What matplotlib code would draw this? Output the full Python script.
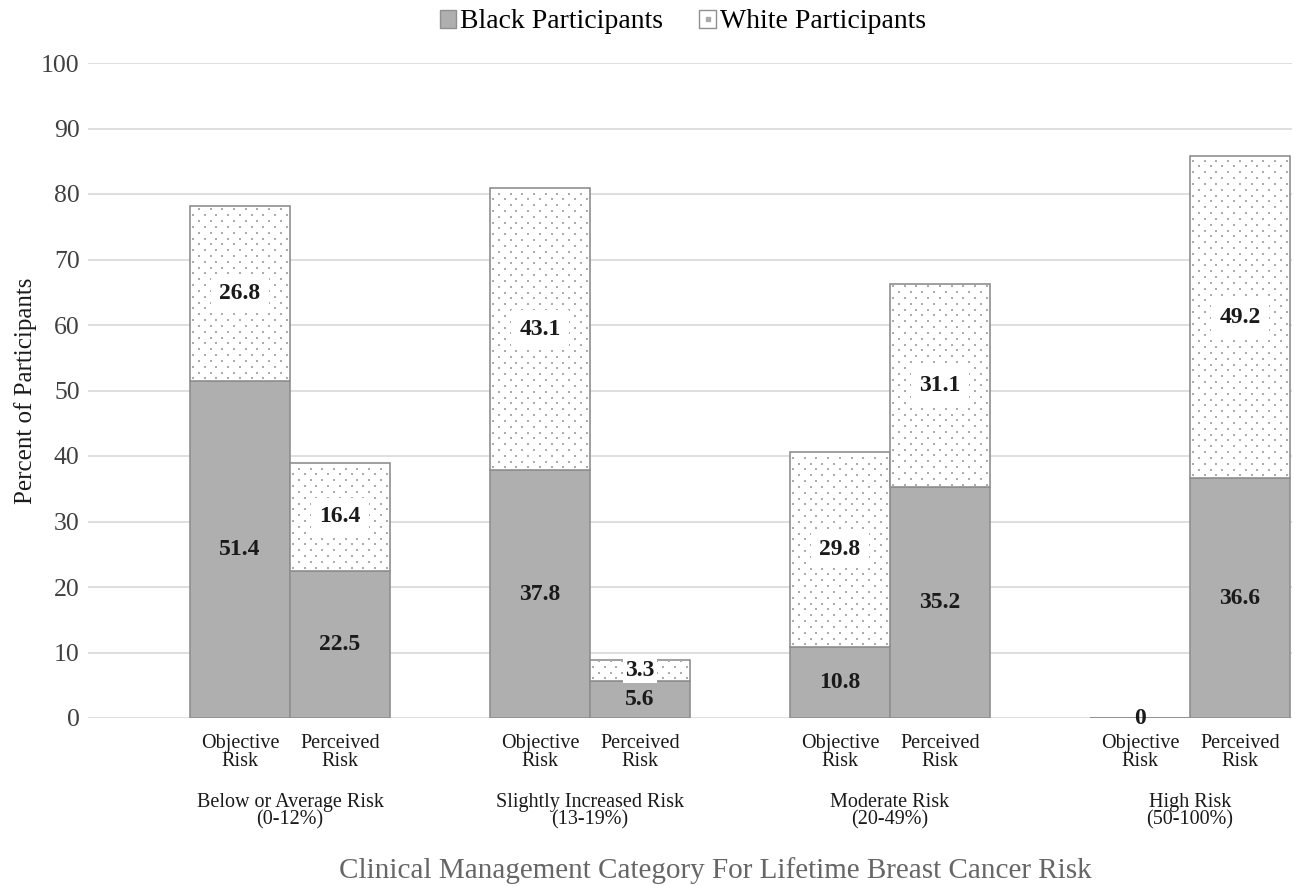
import numpy as np
import matplotlib.pyplot as plt
from matplotlib.patches import Patch
from matplotlib.lines import Line2D

plt.rcParams['font.family'] = ['Liberation Serif', 'DejaVu Serif']

# ======================
# Data
# ======================
groups = ["Below or Average Risk\n(0-12%)", "Slightly Increased Risk\n(13-19%)",
          "Moderate Risk\n(20-49%)", "High Risk\n(50-100%)"]
sub_labels = ["Objective\nRisk", "Perceived\nRisk"]
black_vals = [51.4, 22.5, 37.8, 5.6, 10.8, 35.2, 0.0, 36.6]
white_vals = [26.8, 16.4, 43.1, 3.3, 29.8, 31.1, 0.0, 49.2]

gray = "#afafaf"
edge = "#8f8f8f"
dot_gray = "#ababab"
text_dark = "#404040"

# bar positions: two bars per group, groups 3 units apart
group_centers = 2.02 + 3.0 * np.arange(len(groups))
x = np.ravel([[c - 0.5, c + 0.5] for c in group_centers])
black = np.array(black_vals)
white = np.array(white_vals)

fig = plt.figure(figsize=(12.95, 8.86), dpi=100)
ax = fig.add_axes([88 / 1295, 168 / 886, 1204 / 1295, 655 / 886])

ax.bar(x, black, width=1.0, color=gray, edgecolor=edge, linewidth=1.2, zorder=3)
tops = ax.bar(x, white, width=1.0, bottom=black, color="white", edgecolor=edge,
              linewidth=1.2, zorder=3)

# staggered square-dot fill for the white segments
dx, dy = 0.117, 0.89   # ~11.7 px across, ~5.8 px between rows
for bar in tops:
    h = bar.get_height()
    if h <= 0:
        continue
    x0, y0, w = bar.get_x(), bar.get_y(), bar.get_width()
    rows = np.arange(y0 + dy / 2, y0 + h, dy)
    px, py = [], []
    for k, yy in enumerate(rows):
        cols = np.arange(x0 + (0.03 if k % 2 == 0 else 0.03 + dx / 2), x0 + w, dx)
        px.extend(cols)
        py.extend([yy] * len(cols))
    dots = ax.scatter(px, py, marker="s", s=4.5, color=dot_gray, linewidths=0,
                      zorder=4)
    dots.set_clip_path(bar)

# value labels
for xi, b, w in zip(x, black, white):
    ax.text(xi, b / 2, f"{b:g}", ha="center", va="center",
            fontsize=17, fontweight="bold", color="#1a1a1a", zorder=6)
    if w:
        ax.text(xi, b + w / 2, f"{w:g}", ha="center", va="center",
                fontsize=17, fontweight="bold", color="#1a1a1a", zorder=6,
                bbox=dict(facecolor="white", edgecolor="none",
                          pad=6 if w > 10 else 1.5))

# axes styling
ax.set_xlim(0, 12.04)
ax.set_ylim(0, 100)
ax.set_yticks(np.arange(0, 101, 10))
ax.tick_params(axis="y", length=0, labelsize=18.5, labelcolor=text_dark, pad=6)
ax.set_xticks([])
ax.yaxis.grid(True, color="#d9d9d9", linewidth=1.2, zorder=0)
for s in ax.spines.values():
    s.set_visible(False)
ax.set_ylabel("Percent of Participants", fontsize=18, color="#1a1a1a", labelpad=3)

# multi-level category labels
for i, xi in enumerate(x):
    ax.text(xi, -2.5, sub_labels[i % 2], ha="center", va="top", fontsize=14.5,
            color="#1a1a1a", linespacing=0.9, clip_on=False)
for c, g in zip(group_centers, groups):
    ax.text(c, -11.4, g, ha="center", va="top", fontsize=14.5,
            color="#1a1a1a", linespacing=0.9, clip_on=False)

fig.text(715 / 1295, 1 - 878 / 886,
         "Clinical Management Category For Lifetime Breast Cancer Risk",
         ha="center", va="baseline", fontsize=21, color="#666666")

handles = [Patch(facecolor=gray, edgecolor=edge),
           (Patch(facecolor="white", edgecolor=edge),
            Line2D([], [], marker="s", markersize=3, color=dot_gray, linestyle="none"))]
fig.legend(handles, ["Black Participants", "White Participants"],
           loc="center", bbox_to_anchor=(683 / 1295, 1 - 22 / 886), ncol=2,
           frameon=False, fontsize=20, handlelength=0.6, handleheight=0.6,
           handletextpad=0.15, columnspacing=1.3)

fig.savefig("out.png", dpi=100)
